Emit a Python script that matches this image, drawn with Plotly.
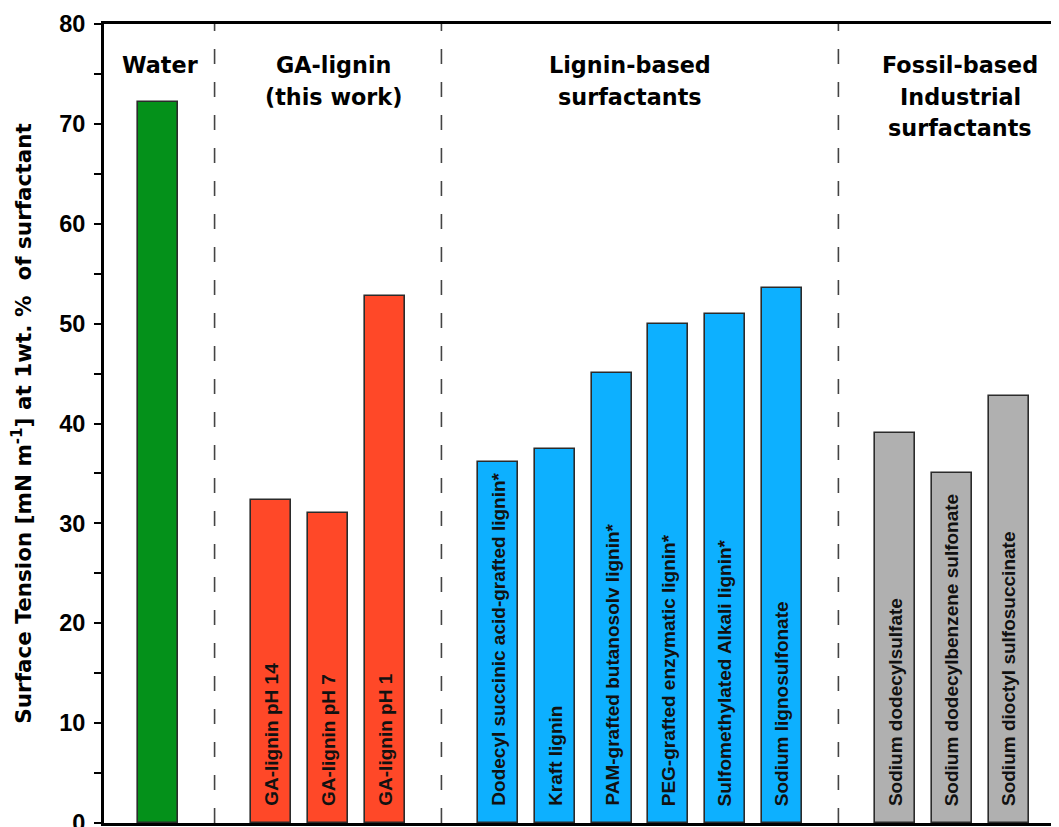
import plotly.graph_objects as go

# ---- data ----
categories = [
    "Water",
    "GA-lignin pH 14", "GA-lignin pH 7", "GA-lignin pH 1",
    "Dodecyl succinic acid-grafted lignin*", "Kraft lignin",
    "PAM-grafted butanosolv lignin*", "PEG-grafted enzymatic lignin*",
    "Sulfomethylated Alkali lignin*", "Sodium lignosulfonate",
    "Sodium dodecylsulfate", "Sodium dodecylbenzene sulfonate",
    "Sodium dioctyl sulfosuccinate",
]
surface_tension = [72.2, 32.3, 31.0, 52.8, 36.1, 37.4, 45.1, 50.0, 51.0, 53.6, 39.0, 35.0, 42.8]
groups = ["water", "ga", "ga", "ga", "lig", "lig", "lig", "lig", "lig", "lig", "fos", "fos", "fos"]
show_bar_label = [False] + [True] * 12

group_order = ["water", "ga", "lig", "fos"]
group_titles = {
    "water": ["Water"],
    "ga": ["GA-lignin", "(this work)"],
    "lig": ["Lignin-based", "surfactants"],
    "fos": ["Fossil-based", "Industrial", "surfactants"],
}
group_colors = {"water": "#04911A", "ga": "#FF4828", "lig": "#0DB0FF", "fos": "#B0B0B0"}

y_ticks = [0, 10, 20, 30, 40, 50, 60, 70, 80]
y_title = "Surface Tension [mN m<sup>-1</sup>] at 1wt. %\u00a0 of surfactant"

# ---- slot positions: one empty slot between groups (holds the dashed separator) ----
xpos, separators = [], []
pos = 0
for i, g in enumerate(groups):
    if i > 0 and g != groups[i - 1]:
        separators.append(pos)
        pos += 1
    xpos.append(pos)
    pos += 1

fig = go.Figure()
fig.add_trace(go.Bar(
    x=xpos, y=surface_tension, width=0.705,
    marker=dict(color=[group_colors[g] for g in groups],
                line=dict(color="#2b2b2b", width=1.6)),
    hoverinfo="x+y", showlegend=False,
))

# labels written inside the bars (rotated)
for x, lab, show in zip(xpos, categories, show_bar_label):
    if not show:
        continue
    fig.add_annotation(
        x=x, y=0, xref="x", yref="y", text=lab, showarrow=False,
        textangle=-90, xanchor="center", yanchor="bottom", yshift=15,
        font=dict(family="Liberation Sans, Arial", size=19, color="#111", weight="bold"),
    )

# group headers
nudge = {"water": 0.04, "ga": 0.1, "lig": -0.17, "fos": 0.15}
line_y = [75.85, 72.7, 69.55]
for g in group_order:
    xs = [x for x, gg in zip(xpos, groups) if gg == g]
    xc = (min(xs) + max(xs)) / 2 + nudge[g]
    for k, line in enumerate(group_titles[g]):
        fig.add_annotation(
            x=xc, y=line_y[k], xref="x", yref="y", text=line, showarrow=False,
            xanchor="center", yanchor="middle",
            font=dict(family="DejaVu Sans", size=22.3, color="#000", weight="bold"),
        )

# dashed separators
for s in separators:
    fig.add_shape(type="line", x0=s, x1=s, y0=0, y1=80, xref="x", yref="y",
                  line=dict(color="#444", width=1.6, dash="15px,18px"), layer="below")

# page body has an 8px margin: figure sized so the plot lands where the reference has it
fig.update_layout(
    width=1051, height=819,
    margin=dict(l=96, r=0, t=16, b=4, autoexpand=False),
    plot_bgcolor="white", paper_bgcolor="white",
    bargap=0,
)
fig.update_xaxes(
    range=[-0.95, 15.89], showticklabels=False, ticks="", showgrid=False, zeroline=False,
    showline=True, linecolor="#000", linewidth=3, mirror=True, automargin=False,
)
fig.update_yaxes(
    range=[0, 80], tickvals=y_ticks, ticks="outside", ticklen=7, tickwidth=2, tickcolor="#000",
    minor=dict(dtick=5, ticks="outside", ticklen=7, tickwidth=2, tickcolor="#000", showgrid=False),
    showgrid=False, zeroline=False, showline=True, linecolor="#000", linewidth=3,
    tickfont=dict(family="Liberation Sans, Arial", size=23.5, color="#000", weight="bold"),
    ticklabelstandoff=4, ticklabeloverflow="allow", automargin=False,
    title=dict(text=y_title, standoff=22,
               font=dict(family="DejaVu Sans", size=21.5, color="#000", weight="bold")),
)

fig.write_html("out.html")
